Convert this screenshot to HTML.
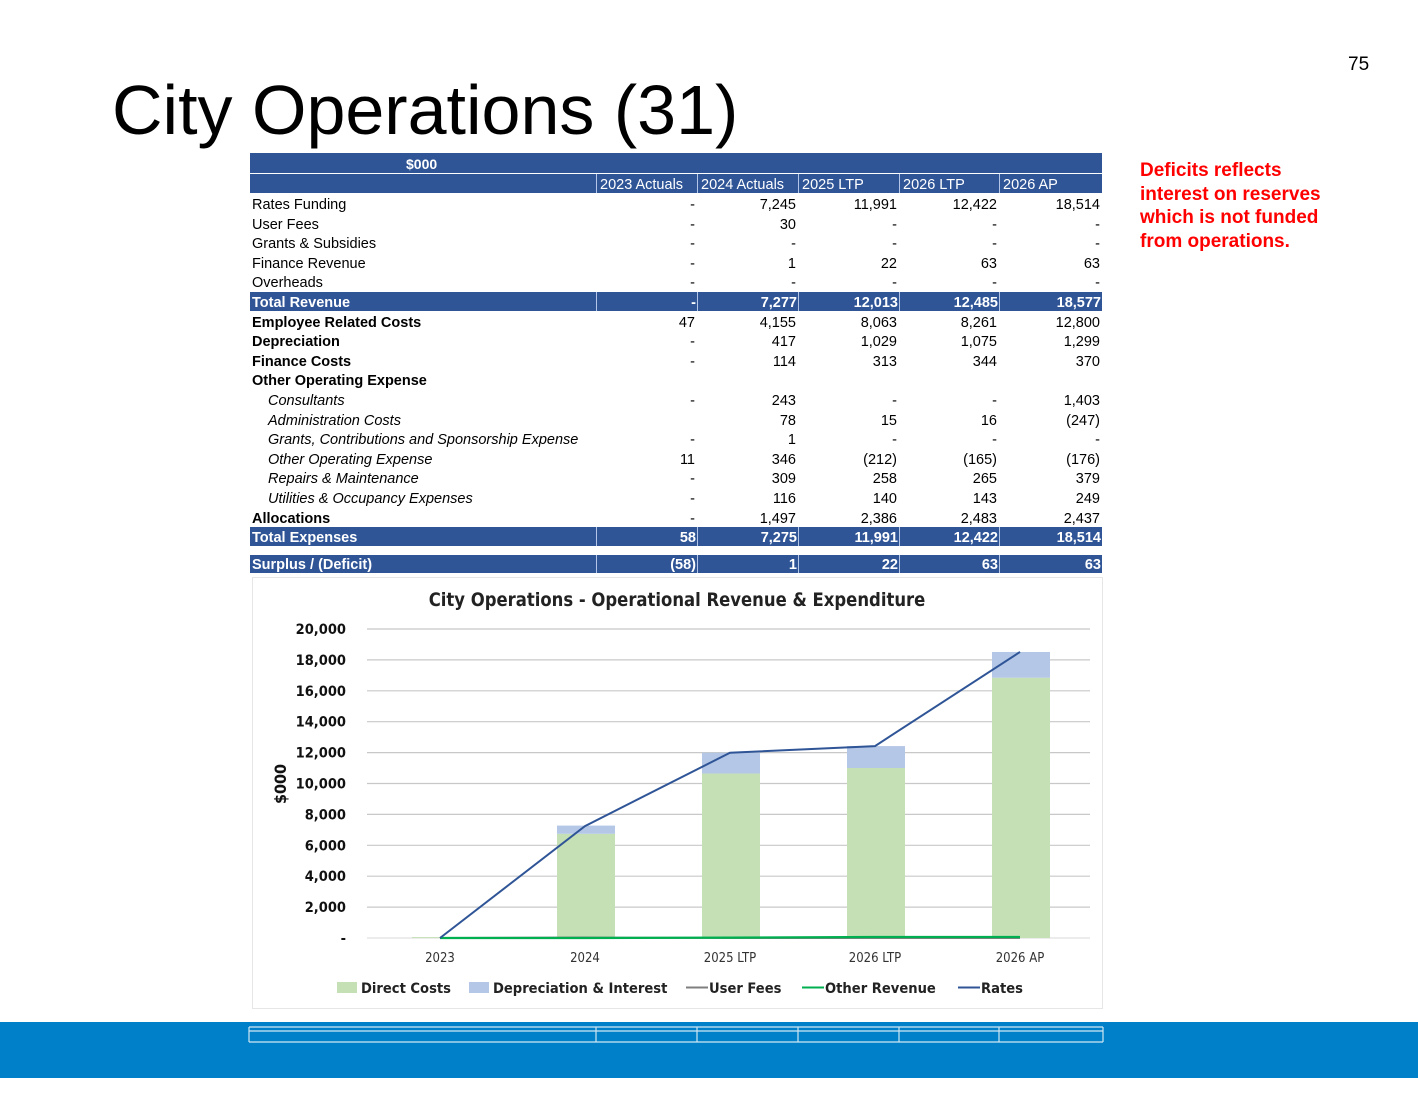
<!DOCTYPE html>
<html><head><meta charset="utf-8">
<style>
body{margin:0;width:1418px;height:1095px;background:#fff;position:relative;overflow:hidden;font-family:"Liberation Sans",Arial,sans-serif;}
.abs{position:absolute;}
.cell{position:absolute;font-size:14.5px;line-height:19px;white-space:nowrap;color:#000;}
.hl{background:#2f5597;color:#fff;font-weight:bold;}
</style></head>
<body>
<div class="abs" style="left:1348px;top:54px;font-size:19px;">75</div>
<div class="abs" style="left:112px;top:70px;font-size:70px;line-height:80px;">City Operations (31)</div>
<div class="abs" style="left:1140px;top:159px;font-size:19px;line-height:23.5px;font-weight:bold;color:#ff0000;">Deficits reflects<br>interest on reserves<br>which is not funded<br>from operations.</div>

<div id="tbl" class="abs" style="left:0;top:0;width:1418px;height:600px;"></div>

<div class="abs" style="left:252px;top:577px;width:849px;height:430px;border:1px solid #e6e6e6;"></div>
<svg id="chart" class="abs" style="left:0;top:0" width="1418" height="1095"></svg>

<div class="abs" style="left:0;top:1022px;width:1418px;height:56px;background:#0080c8;"></div>
<svg class="abs" style="left:0;top:0" width="1418" height="1095">
<g stroke="#cfe6f5" stroke-width="1.2" fill="none">
<line x1="249" y1="1027" x2="1103" y2="1027"/><line x1="249" y1="1031" x2="1103" y2="1031"/><line x1="249" y1="1042" x2="1103" y2="1042"/>
<line x1="249" y1="1027" x2="249" y2="1042"/><line x1="596" y1="1027" x2="596" y2="1042"/><line x1="697" y1="1027" x2="697" y2="1042"/><line x1="798" y1="1027" x2="798" y2="1042"/><line x1="899" y1="1027" x2="899" y2="1042"/><line x1="999" y1="1027" x2="999" y2="1042"/><line x1="1103" y1="1027" x2="1103" y2="1042"/>
</g></svg>

<script>
const colHeaders=["2023 Actuals","2024 Actuals","2025 LTP","2026 LTP","2026 AP"];
const rowLabels=["Rates Funding","User Fees","Grants & Subsidies","Finance Revenue","Overheads","Total Revenue","Employee Related Costs","Depreciation","Finance Costs","Other Operating  Expense","Consultants","Administration Costs","Grants, Contributions and Sponsorship Expense","Other Operating Expense","Repairs & Maintenance","Utilities & Occupancy Expenses","Allocations","Total Expenses"];
const rowStyle=["n","n","n","n","n","h","b","b","b","b","i","i","i","i","i","i","b","h"];
const rowValues=[
["-","7,245","11,991","12,422","18,514"],
["-","30","-","-","-"],
["-","-","-","-","-"],
["-","1","22","63","63"],
["-","-","-","-","-"],
["-","7,277","12,013","12,485","18,577"],
["47","4,155","8,063","8,261","12,800"],
["-","417","1,029","1,075","1,299"],
["-","114","313","344","370"],
["","","","",""],
["-","243","-","-","1,403"],
["","78","15","16","(247)"],
["-","1","-","-","-"],
["11","346","(212)","(165)","(176)"],
["-","309","258","265","379"],
["-","116","140","143","249"],
["-","1,497","2,386","2,483","2,437"],
["58","7,275","11,991","12,422","18,514"]];
const surplusValues=["(58)","1","22","63","63"];

const T=document.getElementById('tbl');
const cx=[250,596,697,798,899,999,1102];
function box(x,y,w,h,cls,txt,align,pad){
  const d=document.createElement('div');
  d.className='cell '+cls;
  d.style.left=x+'px';d.style.top=y+'px';d.style.width=(w-2*pad)+'px';d.style.height=h+'px';
  d.style.lineHeight=h+'px';d.style.textAlign=align;d.style.padding='0 '+pad+'px';
  d.textContent=txt;T.appendChild(d);return d;
}
let h1=box(250,153,852,20,'hl','$000','left',0);
h1.style.textIndent='156px';h1.style.fontSize='14px';h1.style.lineHeight='23px';


let h2=box(250,174,852,19,'hl','','left',0);


for(let c=0;c<5;c++){
  const d=box(cx[c+1],174,cx[c+2]-cx[c+1],19,'',colHeaders[c],'left',3);
  d.style.color='#fff';d.style.borderLeft='1px solid #b4c6e7';d.style.lineHeight='22px';
  
  
}
function dataRow(y,h,label,vals,st,lh){
  if(st==='h'){const bg=box(250,y,852,h,'hl','','left',0);
    
    }
  const l=box(250,y,346,h,st==='h'?'hl':'',label,'left',2);
  l.style.lineHeight=lh+'px';
  if(st==='h')l.style.background='transparent';
  if(st==='b')l.style.fontWeight='bold';
  if(st==='i'){l.style.fontStyle='italic';l.style.paddingLeft='18px';}
  
  
  for(let c=0;c<5;c++){
    const d=box(cx[c+1],y,cx[c+2]-cx[c+1],h,st==='h'?'hl':'',vals[c],'right',2);
    d.style.lineHeight=lh+'px';
    if(st==='h'){d.style.background='transparent';d.style.borderLeft='1px solid #b4c6e7';}
    
    
  }
}
for(let i=0;i<rowLabels.length;i++){
  const h=rowStyle[i]==='h'?19:19.6;
  dataRow(194+i*19.6,h,rowLabels[i],rowValues[i],rowStyle[i],h+(rowStyle[i]==='h'?3:4));
}
dataRow(555,18,"Surplus / (Deficit)",surplusValues,'h',21);

const categories=["2023","2024","2025 LTP","2026 LTP","2026 AP"];
const directCosts=[58,6744,10649,11003,16845];
const depInterest=[0,531,1342,1419,1669];
const userFees=[0,30,0,0,0];
const otherRevenue=[0,1,22,63,63];
const rates=[0,7245,11991,12422,18514];
const yTicks=[0,2000,4000,6000,8000,10000,12000,14000,16000,18000,20000];

const S=document.getElementById('chart');const NS='http://www.w3.org/2000/svg';
const x0=440,dx=145,yBase=938,yTop=629,yMax=20000;
const X=i=>x0+i*dx; const Y=v=>yBase-(v/yMax)*(yBase-yTop);
function el(t,a,p){const e=document.createElementNS(NS,t);for(const k in a)e.setAttribute(k,a[k]);(p||S).appendChild(e);return e;}
const F='"DejaVu Sans Condensed","Liberation Sans",sans-serif';
const title=el('text',{x:677,y:606,'text-anchor':'middle','font-size':'18.3','font-weight':'bold','font-family':F,fill:'#222'});
title.textContent='City Operations - Operational Revenue & Expenditure';


yTicks.forEach(t=>{
  const g=el('line',{x1:367,x2:1090,y1:Y(t),y2:Y(t),stroke:t===0?'#e0e0e0':'#c8c8c8','stroke-width':1.2});
  
  
  const lb=el('text',{x:346,y:Y(t)+5,'text-anchor':'end','font-size':'14.5','font-weight':'bold','font-family':F,fill:'#111'});
  lb.textContent=t===0?'-':t.toLocaleString('en-US');
  
  
});
const yt=el('text',{transform:'translate(286,784) rotate(-90)','text-anchor':'middle','font-size':'16','font-weight':'bold','font-family':F,fill:'#111'});
yt.textContent='$000';


categories.forEach((c,i)=>{
  const bw=58;
  const b1=el('rect',{x:X(i)-bw/2+1,y:Y(directCosts[i]),width:bw,height:Y(0)-Y(directCosts[i]),fill:'#c5e0b4'});
  
  
  const b2=el('rect',{x:X(i)-bw/2+1,y:Y(directCosts[i]+depInterest[i]),width:bw,height:Y(directCosts[i])-Y(directCosts[i]+depInterest[i]),fill:'#b4c7e7'});
  
  
  const xl=el('text',{x:X(i),y:962,'text-anchor':'middle','font-size':'13','font-family':F,fill:'#333'});
  xl.textContent=c;
  
  
});
function line(arr,col,w,name){
  const p=el('polyline',{points:arr.map((v,i)=>X(i)+','+Y(v)).join(' '),fill:'none',stroke:col,'stroke-width':w});
  
  
}
line(userFees,'#7f7f7f',2,'line-user-fees');
line(otherRevenue,'#00b050',2.2,'line-other-revenue');
line(rates,'#2f5597',2,'line-rates');
const leg=[['rect','#c5e0b4','Direct Costs',337],['rect','#b4c7e7','Depreciation & Interest',469],['line','#7f7f7f','User Fees',686],['line','#00b050','Other Revenue',802],['line','#2f5597','Rates',958]];
leg.forEach(l=>{
  let m;
  if(l[0]==='rect') m=el('rect',{x:l[3],y:982,width:20,height:11,fill:l[1]});
  else m=el('line',{x1:l[3],x2:l[3]+22,y1:987.5,y2:987.5,stroke:l[1],'stroke-width':2});
  
  
  const t=el('text',{x:l[3]+(l[0]==='rect'?24:23),y:993,'font-size':'14.6','font-weight':'bold','font-family':F,fill:'#222'});
  t.textContent=l[2];
  
  
});
</script>
</body></html>
